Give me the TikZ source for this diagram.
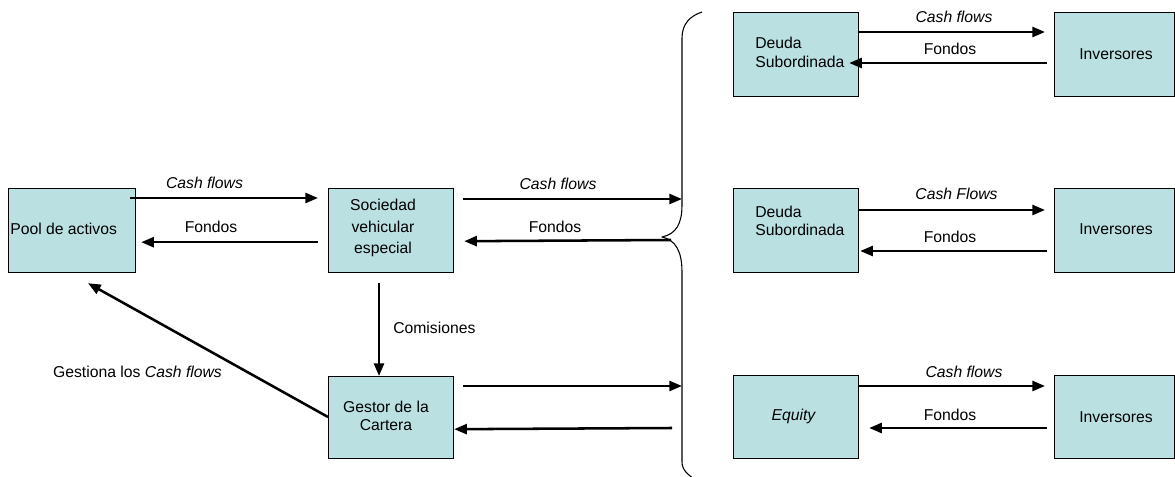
\documentclass[tikz,border=0pt]{standalone}
\usepackage{fontspec}
\setmainfont{Liberation Sans}
\usetikzlibrary{arrows.meta,calc}
\definecolor{boxfill}{RGB}{186,224,226}
\begin{document}
\begin{tikzpicture}[x=0.75pt,y=-0.75pt,
  box/.style={draw=black, line width=0.9pt, fill=boxfill, inner sep=0pt, anchor=north west},
  wide/.style={minimum width=93.75pt, minimum height=63pt},
  txt/.style={inner sep=0pt, font=\fontsize{11.8}{13.7}\selectfont},
  arr/.style={line width=1.9pt, -{Triangle[length=9.5pt,width=7.5pt]}},
  bracepath/.style={line width=0.8pt, line join=round}
]
\useasboundingbox (0,0) rectangle (1175,477);

% boxes
\node[box, minimum width=95.25pt, minimum height=63pt] (pool) at (8,188) {};
\node[box, wide] (soc) at (328,188) {};
\node[box, wide, minimum height=61.5pt] (ges) at (328,376) {};
\node[box, wide] (d1) at (733,12) {};
\node[box, wide] (d2) at (733,188) {};
\node[box, wide, minimum height=62.25pt] (d3) at (733,375) {};
\node[box, minimum width=90pt, minimum height=63pt] (i1) at (1054,12) {};
\node[box, minimum width=90pt, minimum height=63pt] (i2) at (1054,188) {};
\node[box, minimum width=90pt, minimum height=62.25pt] (i3) at (1054,375) {};

% box texts
\node[txt, anchor=west] (pooltxt) at (10,229) {Pool de activos};
\node[txt, align=center, font=\fontsize{11.8}{16.3}\selectfont] (soctxt) at (383,228) {Sociedad\\vehicular\\especial};
\node[txt, align=center] (gestxt) at (386,416) {Gestor de la\\Cartera};
\node[txt, align=left, anchor=west] (d1txt) at (755,52.5) {Deuda\\Subordinada};
\node[txt, align=left, anchor=west] (d2txt) at (755,221) {Deuda\\Subordinada};
\node[txt] (d3txt) at (793.5,416.5) {\itshape Equity};
\node[txt] (i1txt) at (1116,54) {Inversores};
\node[txt] (i2txt) at (1116,229) {Inversores};
\node[txt] (i3txt) at (1116,417) {Inversores};

% brace
\draw[bracepath] (702,12) .. controls (690,16) and (682,24) .. (682,38)
  -- (682,205) .. controls (682,224) and (676,234) .. (662,237)
  .. controls (676,240) and (682,252) .. (682,272)
  -- (682,462) .. controls (682,470) and (688,475) .. (696,480);
\coordinate (b1) at (682,199);
\coordinate (b2) at (671,240);
\coordinate (b3) at (682,386);
\coordinate (b4) at (672,428);

% left connectors
\draw[arr] ($(pool.north east)+(-6,10)$) -- ($(soc.north west)+(-10,10)$);
\draw[arr] ($(soc.south west)+(-10,-31)$) -- ($(pool.south east)+(5,-31)$);
\draw[arr] ($(soc.north east)+(9,11)$) -- (b1);
\draw[arr] (b2) -- ($(soc.south east)+(10,-32)$);
\draw[arr] ($(soc.south west)+(51,10)$) -- ($(ges.north west)+(51,0)$);
\draw[arr] ($(ges.north west)+(0,41)$) -- ($(pool.south west)+(80,10)$);
\draw[arr] ($(ges.north east)+(9,10)$) -- (b3);
\draw[arr] (b4) -- ($(ges.south east)+(0,-30)$);

% right connectors
\draw[arr] ($(d1.north east)+(-1,20)$) -- ($(i1.north west)+(-9,20)$);
\draw[arr] ($(i1.north west)+(-7,51)$) -- ($(d1.north east)+(-10,51)$);
\draw[arr] ($(d2.north east)+(-1,22)$) -- ($(i2.north west)+(-9,22)$);
\draw[arr] ($(i2.north west)+(-7,63)$) -- ($(d2.north east)+(1,63)$);
\draw[arr] ($(d3.north east)+(-1,11)$) -- ($(i3.north west)+(-9,11)$);
\draw[arr] ($(i3.north west)+(-7,53)$) -- ($(d3.north east)+(10,53)$);

% labels
\node[txt] (l1) at (204.5,183) {\itshape Cash flows};
\node[txt] (l2) at (211,227) {Fondos};
\node[txt] (l3) at (558,184) {\itshape Cash flows};
\node[txt] (l4) at (555,227) {Fondos};
\node[txt, anchor=west] (l5) at (393,328) {Comisiones};
\node[txt] (l6) at (137.5,372) {Gestiona los \textit{Cash flows}};
\node[txt] (l7) at (954,17) {\itshape Cash flows};
\node[txt] (l8) at (950,49) {Fondos};
\node[txt] (l9) at (956.5,194) {\itshape Cash Flows};
\node[txt] (l10) at (950,236.5) {Fondos};
\node[txt] (l11) at (964,372) {\itshape Cash flows};
\node[txt] (l12) at (950,415) {Fondos};
\end{tikzpicture}
\end{document}
